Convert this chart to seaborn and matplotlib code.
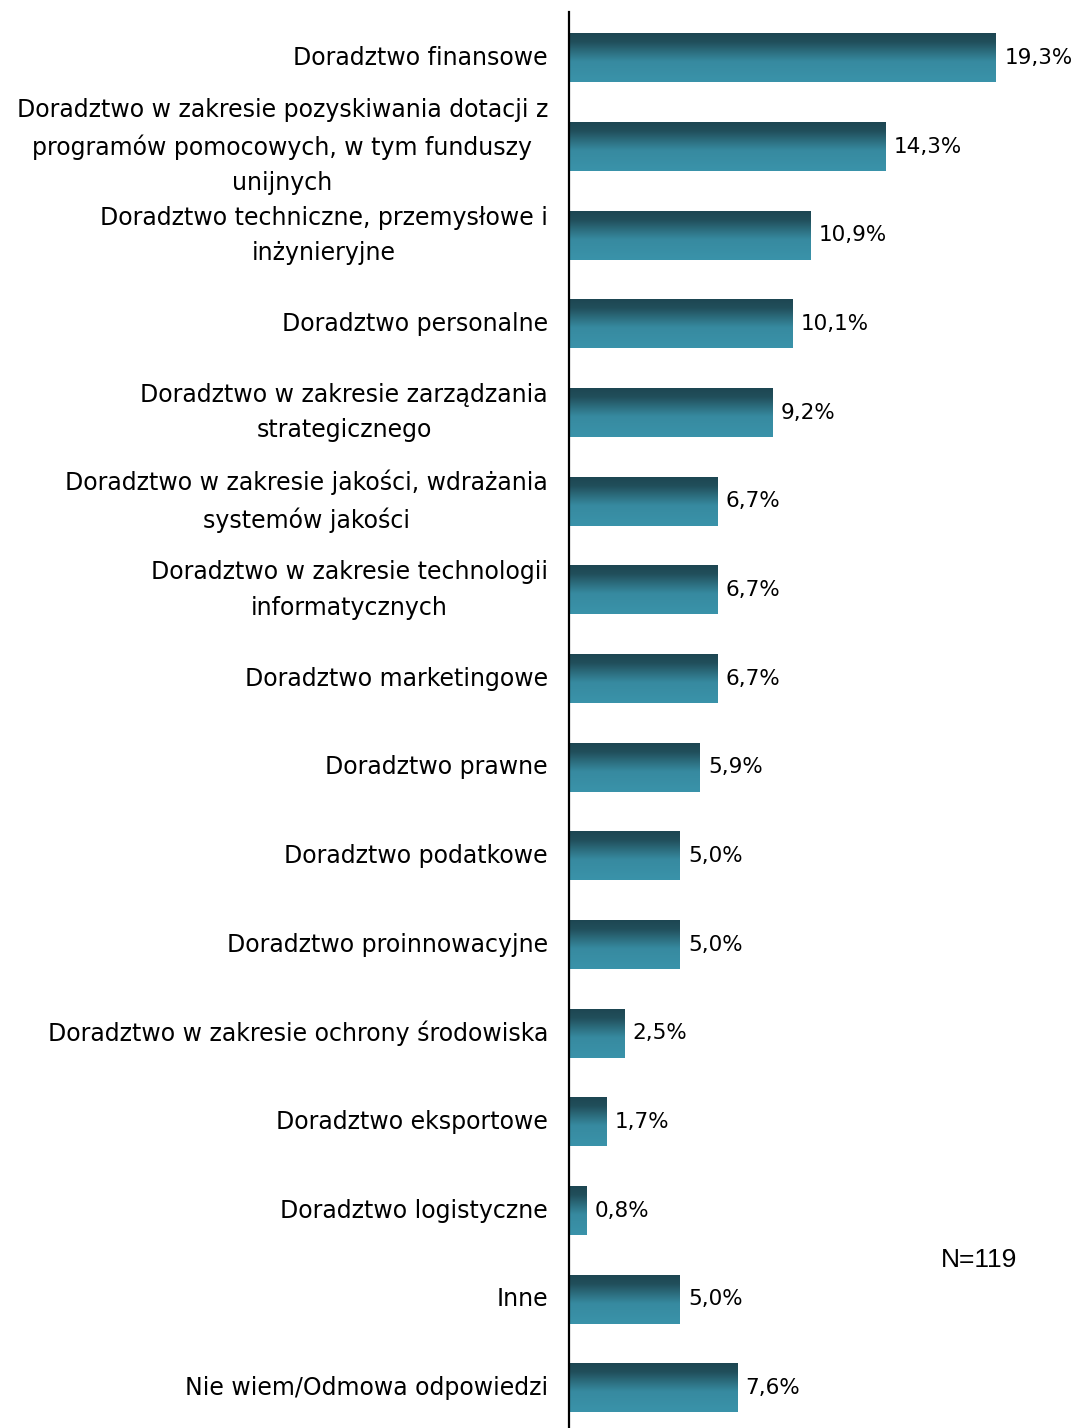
import numpy as np
import pandas as pd
import matplotlib
matplotlib.use("Agg")
import matplotlib.pyplot as plt
from matplotlib.colors import LinearSegmentedColormap
import seaborn as sns

# data
categories = [
    "Doradztwo finansowe",
    "Doradztwo w zakresie pozyskiwania dotacji z\nprogramów pomocowych, w tym funduszy\nunijnych",
    "Doradztwo techniczne, przemysłowe i\ninżynieryjne",
    "Doradztwo personalne",
    "Doradztwo w zakresie zarządzania\nstrategicznego",
    "Doradztwo w zakresie jakości, wdrażania\nsystemów jakości",
    "Doradztwo w zakresie technologii\ninformatycznych",
    "Doradztwo marketingowe",
    "Doradztwo prawne",
    "Doradztwo podatkowe",
    "Doradztwo proinnowacyjne",
    "Doradztwo w zakresie ochrony środowiska",
    "Doradztwo eksportowe",
    "Doradztwo logistyczne",
    "Inne",
    "Nie wiem/Odmowa odpowiedzi",
]
values = [19.3, 14.3, 10.9, 10.1, 9.2, 6.7, 6.7, 6.7, 5.9, 5.0, 5.0, 2.5, 1.7, 0.8, 5.0, 7.6]
note = "N=119"

df = pd.DataFrame({"cat": categories, "val": values})

sns.set_theme(style="white")
plt.rcParams["font.family"] = ["DejaVu Sans"]

fig = plt.figure(figsize=(10.74, 14.28), dpi=100)
ax = fig.add_axes([569 / 1074, 0.0, 1 - 569 / 1074, 1 - 12 / 1428])

sns.barplot(data=df, x="val", y="cat", orient="h", width=0.55, color="#3a92a9", ax=ax)

# vertical gradient fill for each bar (dark top -> light bottom)
cmap = LinearSegmentedColormap.from_list(
    "teal", [(0, "#1d4652"), (0.18, "#214f5b"), (0.58, "#378aa0"), (1, "#3a93aa")])
grad = np.linspace(0, 1, 256).reshape(-1, 1)
for p in ax.patches:
    x0, y0 = p.get_x(), p.get_y()
    w, h = p.get_width(), p.get_height()
    ax.imshow(grad, cmap=cmap, aspect="auto", origin="upper",
              extent=[x0, x0 + w, y0 + h, y0], zorder=2)
    p.set_visible(False)

ax.set_xlim(0, 22.83)
ax.set_ylim(15.45, -0.519)

for i, v in enumerate(values):
    ax.text(v + 0.38, i, f"{v:.1f}%".replace(".", ","), va="center", ha="left",
            fontsize=15.5, color="black")

ax.set_yticks(range(len(categories)))
ax.set_yticklabels(categories, fontsize=17, ha="center", va="center",
                   linespacing=1.6, color="black")
ax.tick_params(axis="y", length=0, pad=0)
# center multi-line labels but keep right edge at the axis
fig.canvas.draw()
r = fig.canvas.get_renderer()
for lab in ax.get_yticklabels():
    bb = lab.get_window_extent(r)
    shift = (bb.width / 2 + 21) / fig.dpi
    lab.set_transform(lab.get_transform() + matplotlib.transforms.ScaledTranslation(-shift, 0, fig.dpi_scale_trans))

ax.set_xticks([])
ax.set_xlabel("")
ax.set_ylabel("")
for s in ["top", "right", "bottom"]:
    ax.spines[s].set_visible(False)
ax.spines["left"].set_color("black")
ax.spines["left"].set_linewidth(1.6)

fig.text(979 / 1074, 1 - 1260 / 1428, note, ha="center", va="center",
         fontsize=19, family="Liberation Sans", color="black")

fig.savefig("out.png", dpi=100)
